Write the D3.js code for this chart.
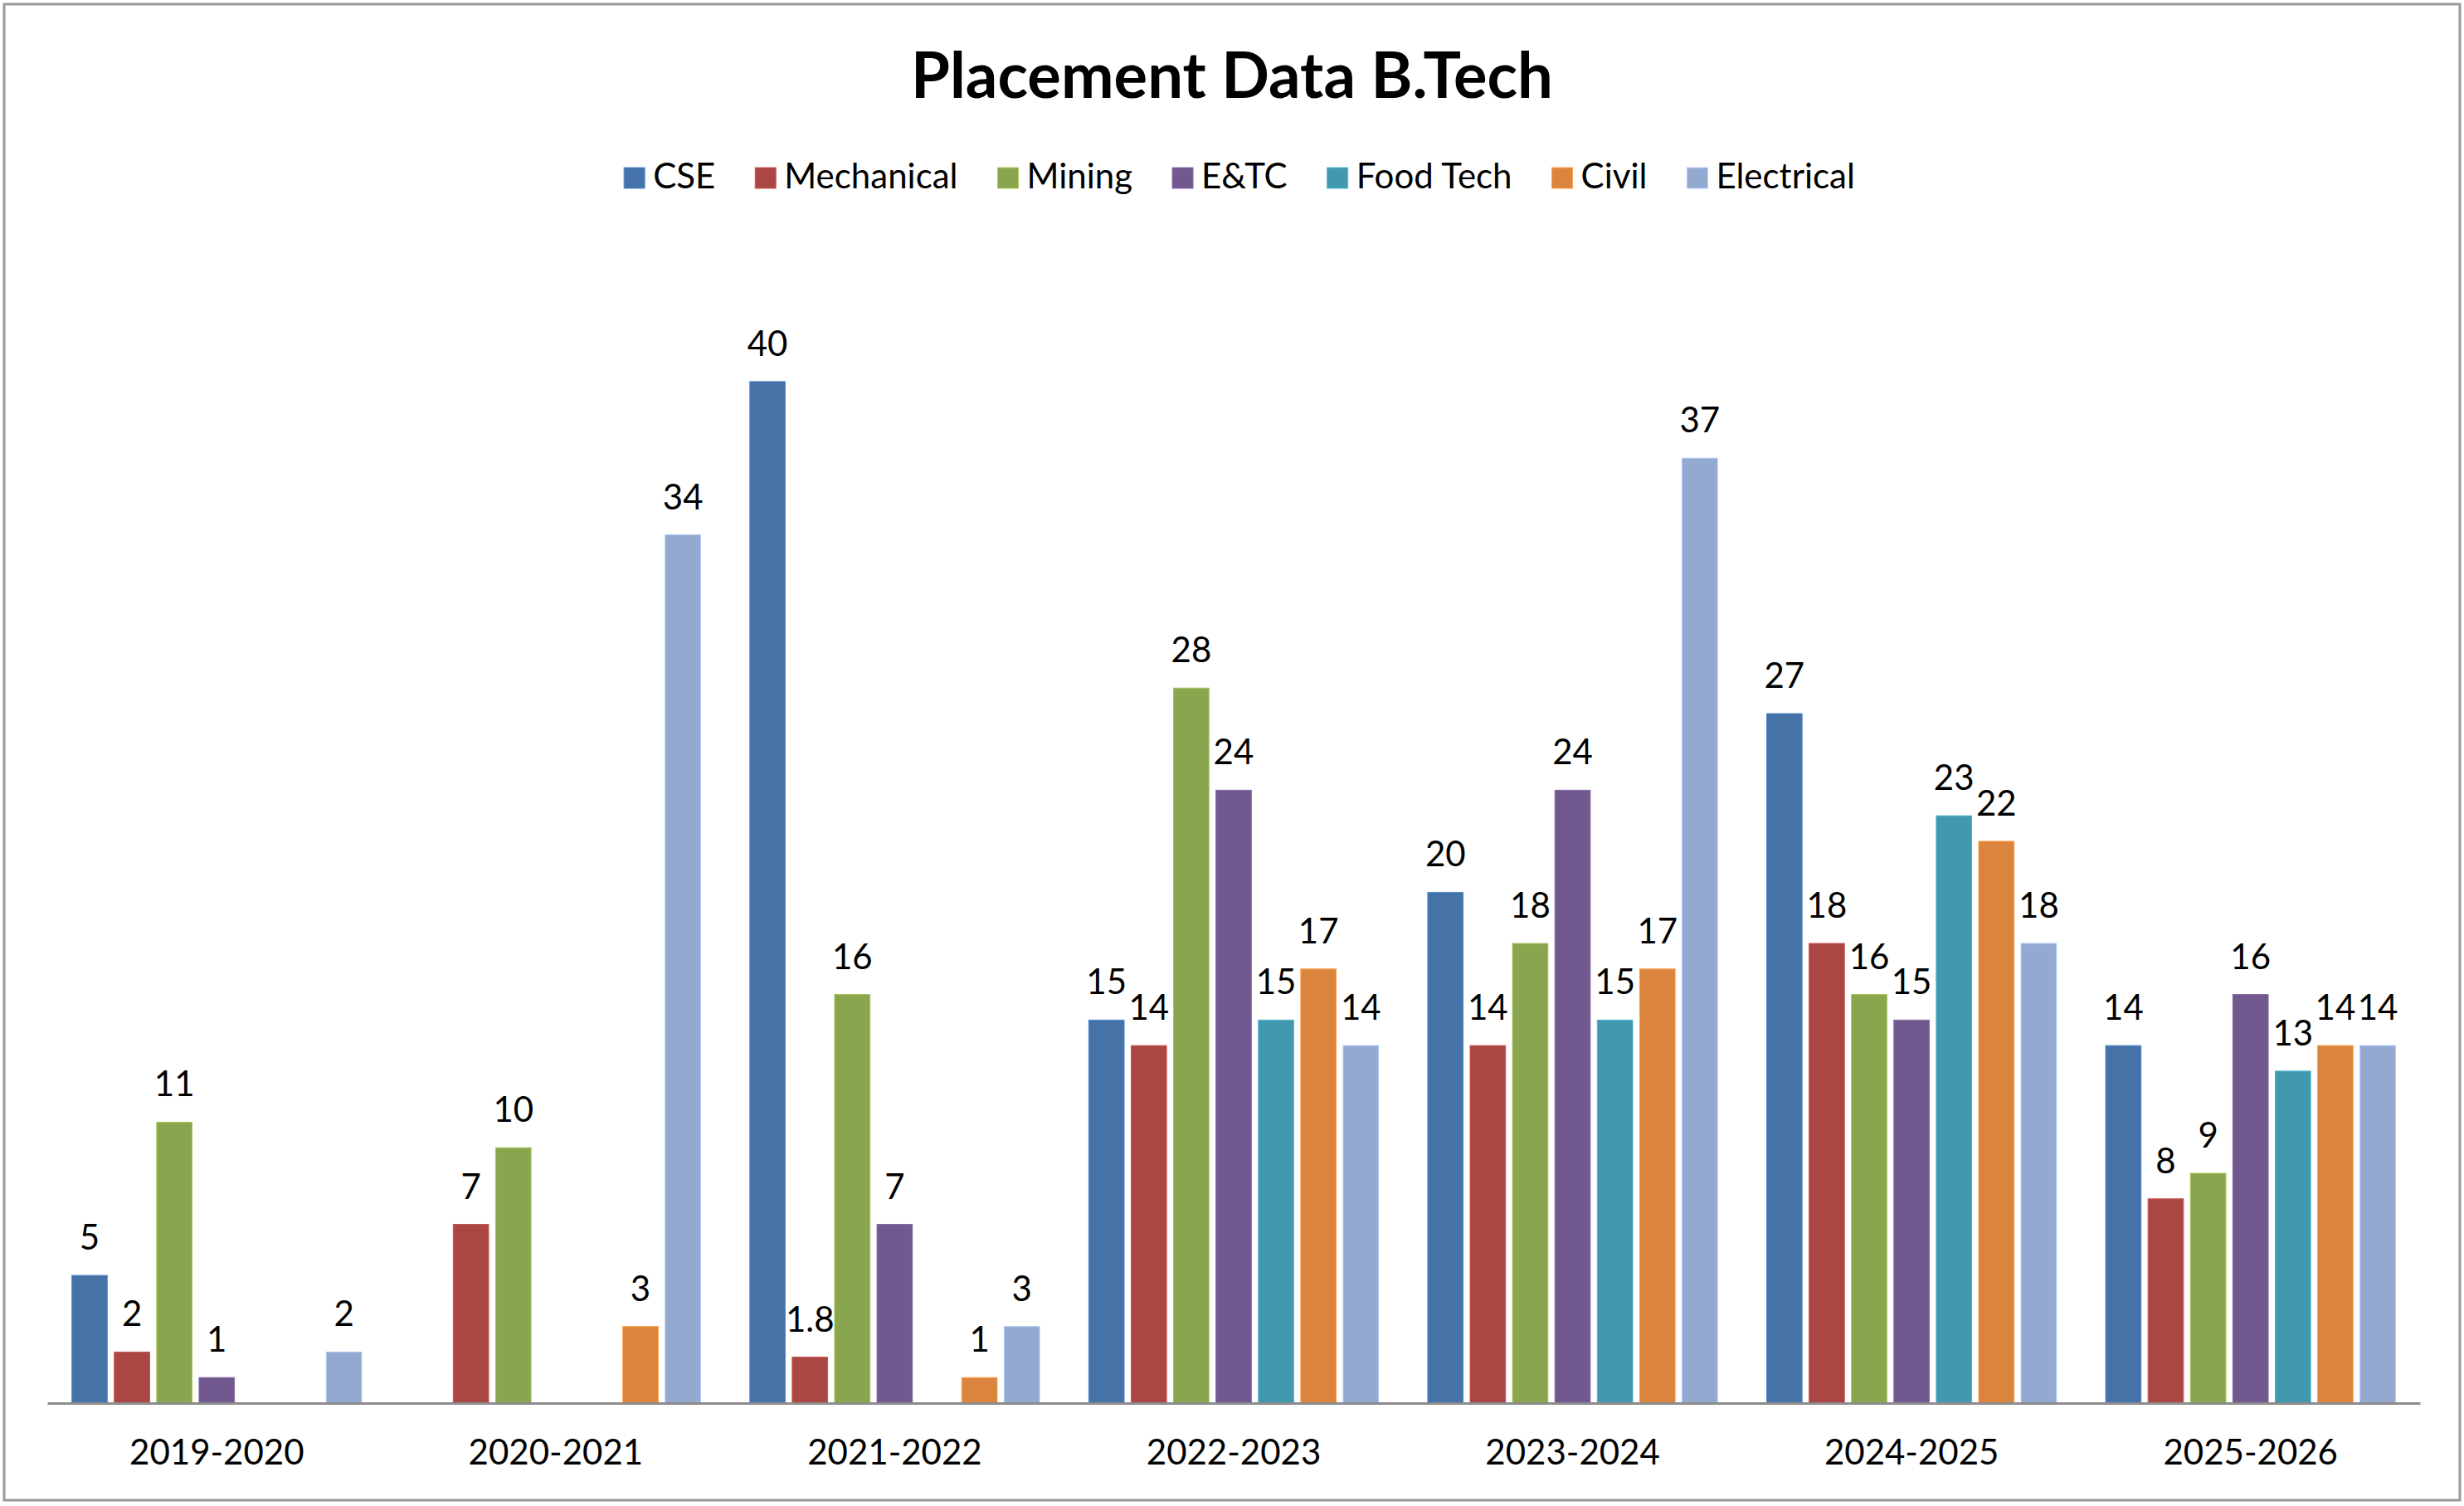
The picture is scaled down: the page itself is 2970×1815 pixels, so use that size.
<!DOCTYPE html>
<html>
<head>
<meta charset="utf-8">
<script src="https://cdn.jsdelivr.net/npm/d3@7"></script>
<style>
  html, body { margin: 0; padding: 0; background: #ffffff; }
  svg { display: block; }
  text { font-family: Lato, "Open Sans", sans-serif; fill: #000; }
</style>
</head>
<body>
<svg id="chart" width="2970" height="1815"></svg>
<script>
// ---- data ----
const categories = ["2019-2020", "2020-2021", "2021-2022", "2022-2023", "2023-2024", "2024-2025", "2025-2026"];
const seriesNames = ["CSE", "Mechanical", "Mining", "E&TC", "Food Tech", "Civil", "Electrical"];
const seriesColors = ["#4572A7", "#AA4643", "#89A54E", "#71588F", "#4198AF", "#DB843D", "#93A9CF"];
const cseValues        = [5,    null, 40,   15, 20, 27, 14];
const mechanicalValues = [2,    7,    1.8,  14, 14, 18, 8];
const miningValues     = [11,   10,   16,   28, 18, 16, 9];
const etcValues        = [1,    null, 7,    24, 24, 15, 16];
const foodTechValues   = [null, null, null, 15, 15, 23, 13];
const civilValues      = [null, 3,    1,    17, 17, 22, 14];
const electricalValues = [2,    34,   3,    14, 37, 18, 14];
const titleText = "Placement Data B.Tech";

const seriesValues = [cseValues, mechanicalValues, miningValues, etcValues, foodTechValues, civilValues, electricalValues];

// ---- layout ----
const W = 2970, H = 1815;
const plotLeft = 57, plotRight = 2917, baseY = 1691, topY = 306;
const svg = d3.select("#chart");

// outer border
svg.append("rect")
  .attr("x", 5).attr("y", 5).attr("width", W - 10).attr("height", H - 12)
  .attr("fill", "#fff").attr("stroke", "#999").attr("stroke-width", 3);

// title
svg.append("text")
  .attr("x", W / 2).attr("y", 118)
  .attr("text-anchor", "middle")
  .style("font-size", "76px").style("font-weight", "bold")
  .text(titleText);

// scales
const x0 = d3.scaleBand().domain(categories).range([plotLeft, plotRight]).paddingInner(0).paddingOuter(0);
const x1 = d3.scaleBand().domain(seriesNames).range([0, x0.bandwidth()]).paddingInner(0.165).paddingOuter(0.58);
const y = d3.scaleLinear().domain([0, 45]).range([baseY, topY]);
const color = d3.scaleOrdinal().domain(seriesNames).range(seriesColors);

// bars
const groups = svg.append("g").selectAll("g")
  .data(categories)
  .join("g")
  .attr("transform", d => `translate(${x0(d)},0)`);

const cellData = (cat, ci) => seriesNames.map((s, si) => ({ series: s, value: seriesValues[si][ci] }))
  .filter(d => d.value !== null && d.value !== undefined);

groups.each(function(cat, ci) {
  const g = d3.select(this);
  const data = cellData(cat, ci);
  g.selectAll("rect").data(data).join("rect")
    .attr("x", d => x1(d.series))
    .attr("y", d => y(d.value))
    .attr("width", x1.bandwidth())
    .attr("height", d => baseY - y(d.value))
    .attr("fill", d => color(d.series))
    .attr("stroke", d => d3.color(color(d.series)).brighter(0.5))
    .attr("stroke-width", 1);
  g.selectAll("text").data(data).join("text")
    .attr("x", d => x1(d.series) + x1.bandwidth() / 2)
    .attr("y", d => y(d.value) - 31)
    .attr("text-anchor", "middle")
    .style("font-size", "42px")
    .text(d => d.value);
});

// x axis
const xAxis = d3.axisBottom(x0).tickSize(0).tickPadding(0);
const axisG = svg.append("g").attr("transform", `translate(0,${baseY})`).call(xAxis);
axisG.select(".domain").attr("stroke", "#8c8c8c").attr("stroke-width", 3);
axisG.selectAll(".tick text")
  .attr("dy", null)
  .attr("y", 74)
  .style("font-family", "Lato, 'Open Sans', sans-serif")
  .style("font-size", "42px")
  .attr("fill", "#000");

// legend
const legend = svg.append("g");
let lx = 0;
seriesNames.forEach((s, i) => {
  const it = legend.append("g");
  it.append("rect").attr("x", 0).attr("y", 202).attr("width", 25).attr("height", 25)
    .attr("fill", seriesColors[i]).attr("stroke", d3.color(seriesColors[i]).brighter(0.6)).attr("stroke-width", 1);
  const t = it.append("text").attr("x", 35).attr("y", 227).style("font-size", "42px").text(s);
  const tw = t.node().getComputedTextLength();
  it.attr("transform", `translate(${lx},0)`);
  lx += 35 + tw + 48;
});
const legendWidth = lx - 48;
legend.attr("transform", `translate(${1494 - legendWidth / 2},0)`);
</script>
</body>
</html>
